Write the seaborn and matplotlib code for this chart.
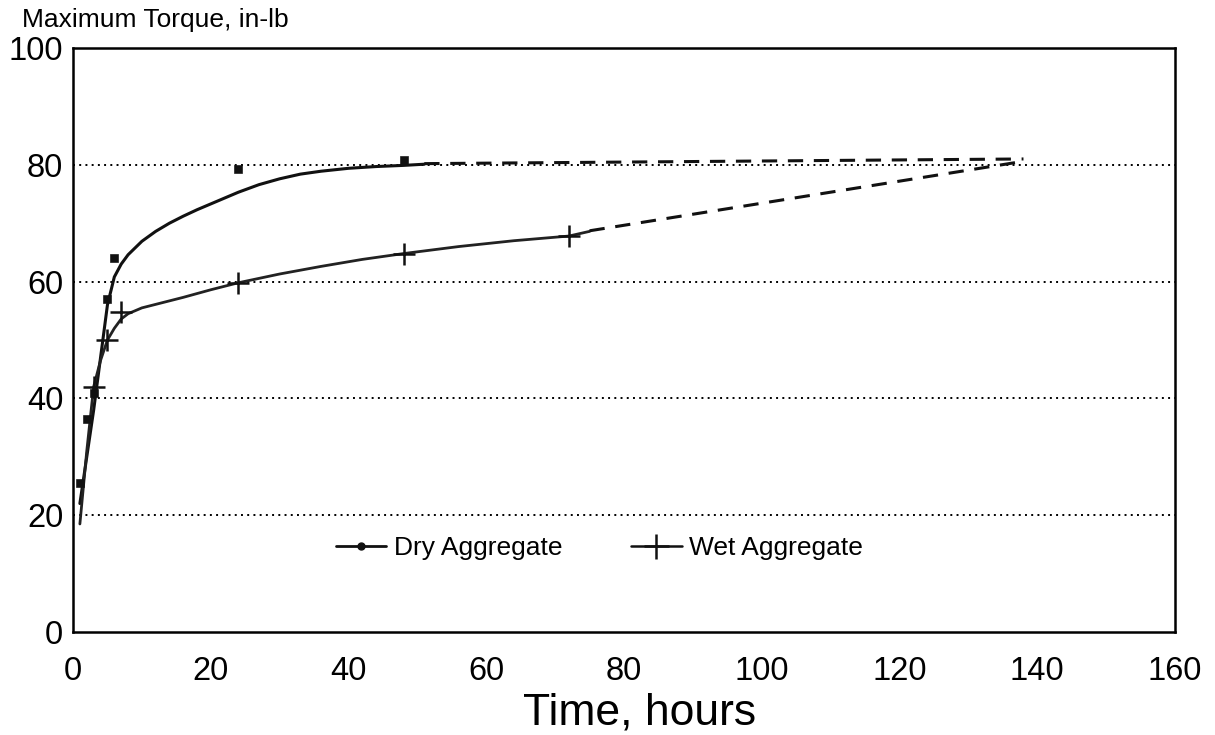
import numpy as np
import pandas as pd
import matplotlib
matplotlib.use("Agg")
import matplotlib.pyplot as plt
import seaborn as sns
from matplotlib.lines import Line2D

# ---- data ----
dry_hours = [1, 2, 3, 5, 6, 24, 48]
dry_torque = [25.5, 36.5, 41, 57, 64, 79.3, 80.8]

wet_hours = [3, 5, 7, 24, 48, 72]
wet_torque = [42, 50, 54.8, 59.8, 64.8, 67.8]

# fitted (solid) curves
dry_fit_x = [1, 2, 3, 4, 5, 6, 7, 8, 10, 12, 14, 16, 18, 20, 22, 24, 27, 30, 33,
             36, 40, 44, 48, 51]
dry_fit_y = [22, 30, 38, 47, 56, 60.8, 63, 64.6, 66.9, 68.6, 70, 71.2, 72.3, 73.3,
             74.3, 75.3, 76.6, 77.6, 78.4, 78.9, 79.4, 79.7, 79.9, 80.1]

wet_fit_x = [1, 2, 3, 4, 5, 6, 7, 8, 10, 12, 14, 16, 20, 24, 30, 36, 42, 48, 56,
             64, 72, 75]
wet_fit_y = [18.5, 31, 42, 46.5, 50, 52, 53.6, 54.5, 55.5, 56.1, 56.7, 57.3, 58.6,
             59.8, 61.3, 62.6, 63.8, 64.8, 66, 67, 67.8, 68.6]

# extrapolated (dashed) segments
dry_ext_x = [51, 138]
dry_ext_y = [80.2, 81]
wet_ext_x = [75, 138]
wet_ext_y = [68.7, 80.6]

x_ticks = [0, 20, 40, 60, 80, 100, 120, 140, 160]
y_ticks = [0, 20, 40, 60, 80, 100]
grid_levels = [20, 40, 60, 80]

sns.set_style("white")
plt.rcParams["font.family"] = ["Liberation Sans", "DejaVu Sans"]
plt.rcParams["text.color"] = "black"
plt.rcParams["axes.labelcolor"] = "black"
plt.rcParams["xtick.color"] = "black"
plt.rcParams["ytick.color"] = "black"

fig = plt.figure(figsize=(12.15, 7.35), dpi=100)
ax = fig.add_axes([73 / 1215, 1 - 632 / 735, 1102 / 1215, 584 / 735])

for g in grid_levels:
    ax.axhline(g, color="black", lw=1.4, ls=(0, (1, 2.2)), zorder=1)

df_dry_fit = pd.DataFrame({"x": dry_fit_x, "y": dry_fit_y})
df_wet_fit = pd.DataFrame({"x": wet_fit_x, "y": wet_fit_y})
sns.lineplot(data=df_dry_fit, x="x", y="y", ax=ax, color="#111111", lw=2.2,
             estimator=None, sort=True, zorder=3)
sns.lineplot(data=df_wet_fit, x="x", y="y", ax=ax, color="#222222", lw=2.0,
             estimator=None, sort=True, zorder=3)

df_dry_ext = pd.DataFrame({"x": dry_ext_x, "y": dry_ext_y})
df_wet_ext = pd.DataFrame({"x": wet_ext_x, "y": wet_ext_y})
sns.lineplot(data=df_dry_ext, x="x", y="y", ax=ax, color="#111111", lw=2.2,
             estimator=None, zorder=3).lines[-1].set_linestyle((0, (5, 3.5)))
sns.lineplot(data=df_wet_ext, x="x", y="y", ax=ax, color="#111111", lw=2.2,
             estimator=None, zorder=3).lines[-1].set_linestyle((0, (5, 3.5)))

df_dry = pd.DataFrame({"x": dry_hours, "y": dry_torque})
df_wet = pd.DataFrame({"x": wet_hours, "y": wet_torque})
sns.scatterplot(data=df_dry, x="x", y="y", ax=ax, marker="s", s=30,
                color="#111111", edgecolor="#111111", zorder=4)
sns.scatterplot(data=df_wet, x="x", y="y", ax=ax, marker="+", s=260,
                color="#111111", linewidth=1.8, zorder=4)

ax.set_xlim(0, 160)
ax.set_ylim(0, 100)
ax.set_xticks(x_ticks)
ax.set_yticks(y_ticks)
ax.set_xticklabels([str(t) for t in x_ticks])
ax.set_yticklabels([str(t) for t in y_ticks])
ax.tick_params(axis="x", direction="in", length=11, width=1.6, pad=17,
               labelsize=23.5, colors="black")
ax.tick_params(axis="y", direction="in", length=13, width=1.6, pad=7,
               labelsize=23.5, colors="black")
for sp in ax.spines.values():
    sp.set_visible(True)
    sp.set_color("black")
    sp.set_linewidth(1.8)

ax.set_ylabel("")
ax.set_xlabel("")
fig.text(640 / 1215, 1 - 724 / 735, "Time, hours", fontsize=32,
         ha="center", va="baseline", color="black")

fig.text(22 / 1215, 1 - 20 / 735, "Maximum Torque, in-lb", fontsize=19,
         ha="left", va="center", color="black")

handles = [
    Line2D([0], [0], color="#111111", lw=2, marker="o", markersize=5),
    Line2D([0], [0], color="#111111", lw=1.8, marker="+", markersize=18,
           markeredgewidth=1.8),
]
leg = ax.legend(handles, ["Dry Aggregate", "Wet Aggregate"], ncol=2, frameon=False,
                loc="center", bbox_to_anchor=(0.478, 0.144), fontsize=19,
                handlelength=1.9, handletextpad=0.3, columnspacing=2.6)
for t in leg.get_texts():
    t.set_color("black")

fig.savefig("out.png", dpi=100, facecolor="white")
